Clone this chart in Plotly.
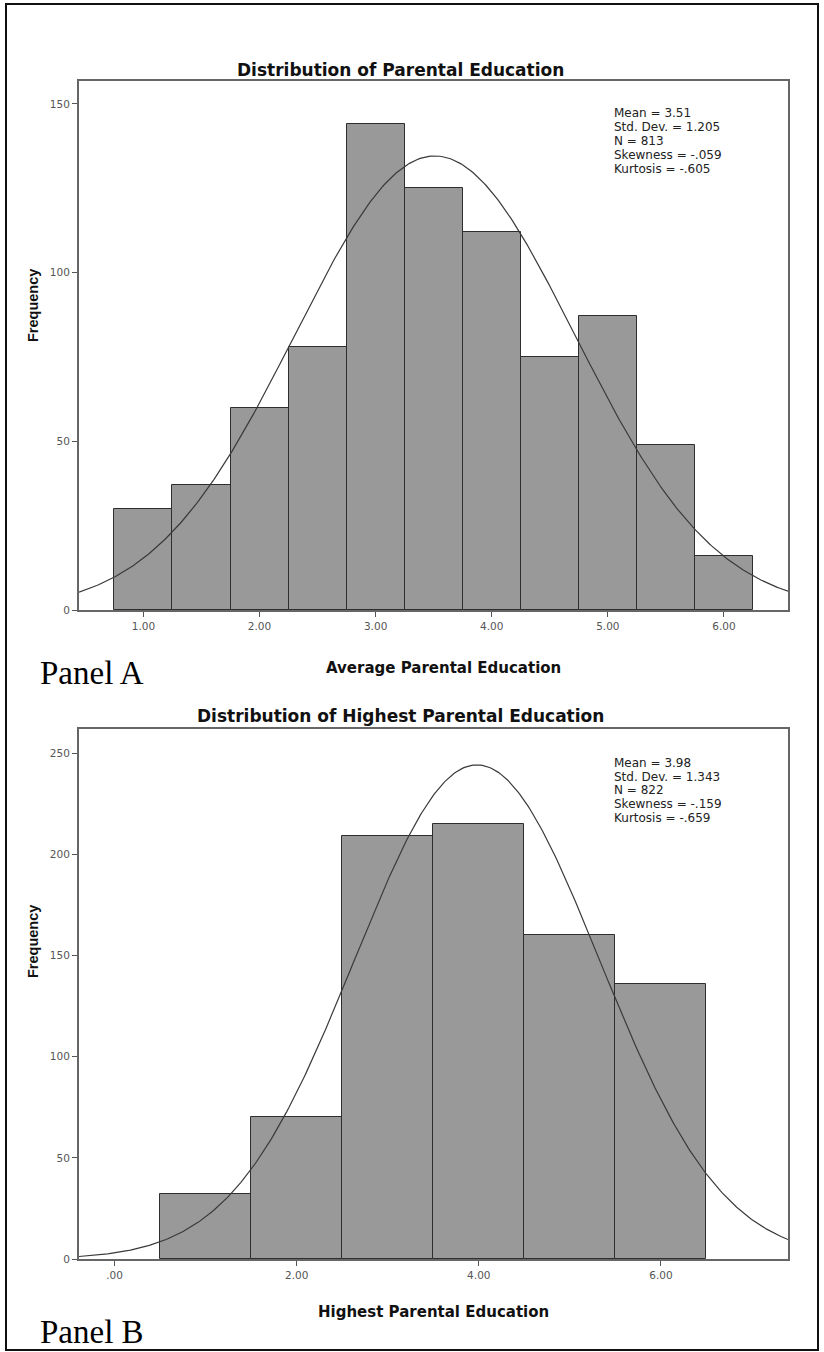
import numpy as np
import plotly.graph_objects as go

W, H = 824, 1352

# Panel A: average parental education (bins of width 0.5)
a_centers = [1.0, 1.5, 2.0, 2.5, 3.0, 3.5, 4.0, 4.5, 5.0, 5.5, 6.0]
a_counts = [30, 37, 60, 78, 144, 125, 112, 75, 87, 49, 16]
a_width = 0.5
a_mean, a_sd, a_n = 3.51, 1.205, 813
a_stats = ["Mean = 3.51", "Std. Dev. = 1.205", "N = 813",
           "Skewness = -.059", "Kurtosis = -.605"]
a_xticks = [1, 2, 3, 4, 5, 6]
a_xticklabels = ["1.00", "2.00", "3.00", "4.00", "5.00", "6.00"]
a_yticks = [0, 50, 100, 150]

# Panel B: highest parental education (bins of width 1)
b_centers = [1, 2, 3, 4, 5, 6]
b_counts = [32, 70, 209, 215, 160, 136]
b_width = 1.0
b_mean, b_sd, b_n = 3.98, 1.343, 822
b_stats = ["Mean = 3.98", "Std. Dev. = 1.343", "N = 822",
           "Skewness = -.159", "Kurtosis = -.659"]
b_xticks = [0, 2, 4, 6]
b_xticklabels = [".00", "2.00", "4.00", "6.00"]
b_yticks = [0, 50, 100, 150, 200, 250]

WIDE = "DejaVu Sans, Verdana, sans-serif"
SANS = "Liberation Sans, Arial, sans-serif"
SERIF = "Liberation Serif, Times New Roman, serif"
BAR = "#999999"
EDGE = "#2e2e2e"
FRAME = "#666666"


def px(x):
    return x / W


def py(y):
    return 1 - y / H


def normal_curve(mean, sd, n, width, lo, hi):
    xs = np.linspace(lo, hi, 400)
    ys = n * width * np.exp(-0.5 * ((xs - mean) / sd) ** 2) / (sd * np.sqrt(2 * np.pi))
    return xs, ys


a_range = [0.445, 6.552]
b_range = [-0.391, 7.396]

fig = go.Figure()

fig.add_trace(go.Bar(x=a_centers, y=a_counts, width=a_width,
                     marker=dict(color=BAR, line=dict(color=EDGE, width=1)),
                     xaxis="x", yaxis="y", showlegend=False))
ax, ay = normal_curve(a_mean, a_sd, a_n, a_width, *a_range)
fig.add_trace(go.Scatter(x=ax, y=ay, mode="lines",
                         line=dict(color="#3a3a3a", width=1.2),
                         xaxis="x", yaxis="y", showlegend=False))

fig.add_trace(go.Bar(x=b_centers, y=b_counts, width=b_width,
                     marker=dict(color=BAR, line=dict(color=EDGE, width=1)),
                     xaxis="x2", yaxis="y2", showlegend=False))
bx, by = normal_curve(b_mean, b_sd, b_n, b_width, *b_range)
fig.add_trace(go.Scatter(x=bx, y=by, mode="lines",
                         line=dict(color="#3a3a3a", width=1.2),
                         xaxis="x2", yaxis="y2", showlegend=False))

axis_common = dict(showgrid=False, zeroline=False, showline=True, mirror=True,
                   linecolor=FRAME, linewidth=2, ticks="outside", ticklen=5,
                   tickwidth=1, tickcolor="#555555", automargin=False,
                   tickfont=dict(family=WIDE, size=10.5, color="#555555"))

fig.update_layout(
    width=W, height=H,
    margin=dict(l=0, r=0, t=0, b=0),
    paper_bgcolor="white", plot_bgcolor="white",
    bargap=0,
    xaxis=dict(domain=[px(79), px(788)], range=a_range, anchor="y",
               tickvals=a_xticks, ticktext=a_xticklabels, **axis_common),
    yaxis=dict(domain=[py(610), py(81)], range=[0, 156.8], anchor="x",
               tickvals=a_yticks, **axis_common),
    xaxis2=dict(domain=[px(79), px(788)], range=b_range, anchor="y2",
                tickvals=b_xticks, ticktext=b_xticklabels, **axis_common),
    yaxis2=dict(domain=[py(1259), py(729)], range=[0, 261.9], anchor="x2",
                tickvals=b_yticks, **axis_common),
)

ann = []


def text(x, y, s, size, family=WIDE, bold=False, anchor="center", angle=0, color="#111111"):
    ann.append(dict(x=px(x), y=py(y), xref="paper", yref="paper",
                    text=f"<b>{s}</b>" if bold else s, showarrow=False,
                    xanchor=anchor, yanchor="middle", textangle=angle,
                    font=dict(family=family, size=size, color=color)))


# Panel A texts
text(400, 70, "Distribution of Parental Education", 17, bold=True)
text(443, 668, "Average Parental Education", 15, bold=True)
text(33, 306, "Frequency", 14.5, family=SANS, bold=True, angle=-90)
for i, s in enumerate(a_stats):
    text(612, [113, 127, 141, 155, 169][i], s, 12, anchor="left", color="#222222")
text(38, 673, "Panel A", 33, family=SERIF, anchor="left", color="#000000")

# Panel B texts
text(400, 716, "Distribution of Highest Parental Education", 17, bold=True)
text(433, 1312, "Highest Parental Education", 15, bold=True)
text(33, 942, "Frequency", 14.5, family=SANS, bold=True, angle=-90)
for i, s in enumerate(b_stats):
    text(612, [763, 777, 790, 804, 818][i], s, 12, anchor="left", color="#222222")
text(38, 1332, "Panel B", 33, family=SERIF, anchor="left", color="#000000")

fig.update_layout(annotations=ann)

# Outer frame around both panels
fig.add_shape(type="rect", xref="paper", yref="paper",
              x0=px(6), x1=px(818), y0=py(1350), y1=py(4),
              line=dict(color="#111111", width=2), fillcolor="rgba(0,0,0,0)")

fig.write_html("out.html")
